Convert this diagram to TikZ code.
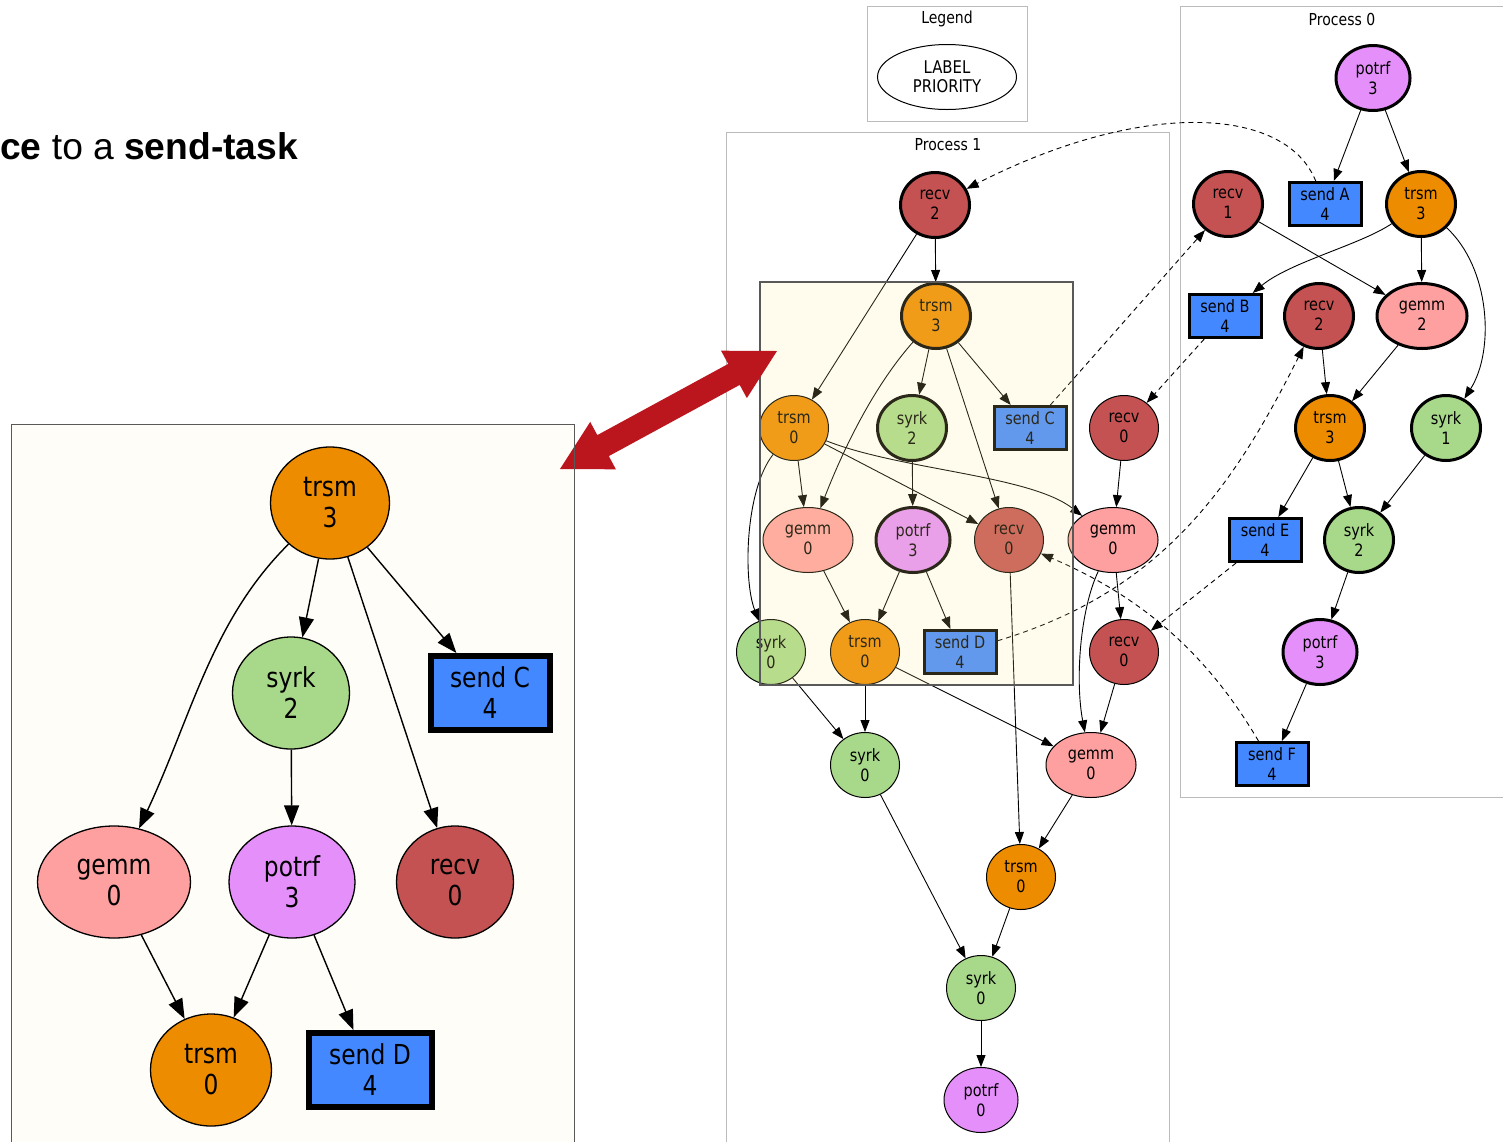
\documentclass[tikz,border=0pt]{standalone}
\usepackage{fontspec}
\setmainfont{DejaVu Sans}
\newfontfamily\gv{DejaVu Sans}[FakeStretch=0.85]
\newfontfamily\arl{Liberation Sans}
\usetikzlibrary{shapes.geometric,arrows.meta}
\definecolor{crecv}{HTML}{C55252}
\definecolor{ctrsm}{HTML}{EE8C00}
\definecolor{csyrk}{HTML}{A8D88A}
\definecolor{cgemm}{HTML}{FFA0A0}
\definecolor{cpotrf}{HTML}{E590FA}
\definecolor{csend}{HTML}{4488FF}
\definecolor{cframe}{HTML}{BBBBBB}
\definecolor{chl}{RGB}{255,240,150}
\definecolor{cred}{RGB}{187,22,30}
\definecolor{ccream}{HTML}{FFFDF7}
\tikzset{
  tk/.style={ellipse, draw=black, line width=1pt, inner sep=0pt, align=center,
    font=\gv\fontsize{17}{20}\selectfont, minimum width=69pt, minimum height=65pt},
  boldn/.style={line width=3pt},
  recv/.style={tk, fill=crecv},
  trsm/.style={tk, fill=ctrsm},
  syrk/.style={tk, fill=csyrk},
  gemm/.style={tk, fill=cgemm, minimum width=90pt},
  potrf/.style={tk, fill=cpotrf, minimum width=74pt},
  snd/.style={rectangle, draw=black, line width=3pt, fill=csend, inner sep=0pt, align=center,
    font=\gv\fontsize{17}{20}\selectfont, minimum width=72pt, minimum height=43pt},
  bigt/.style={ellipse, draw=black, line width=1.3pt, inner sep=0pt, align=center,
    font=\gv\fontsize{27.5}{31}\selectfont, minimum height=112pt},
  bigs/.style={rectangle, draw=black, line width=6pt, fill=csend, inner sep=0pt, align=center,
    font=\gv\fontsize{27.5}{31}\selectfont, minimum height=74pt},
  sm/.style={-{Triangle[length=12pt,width=9pt]}, line width=0.9pt},
  dsh/.style={sm, dash pattern=on 5pt off 4pt},
  bg/.style={-{Triangle[length=20pt,width=15pt]}, line width=1.4pt},
  boxf/.style={draw=cframe, line width=1pt},
  ttl/.style={font=\gv\fontsize{16.5}{19}\selectfont, inner sep=0pt}
}
\begin{document}
\begin{tikzpicture}[x=1pt,y=-1pt]
\useasboundingbox[fill=white] (0,0) rectangle (1503,1141);

% title fragment
\node[anchor=base west, inner sep=0pt, font=\arl\fontsize{37.2}{41}\selectfont] (title) at (0,159) {\textbf{ce} to a \textbf{send-task}};

% cluster frames
\draw[boxf] (867,6) rectangle (1027,121);
\draw[boxf] (1180,6) rectangle (1515,797);
\draw[boxf] (726,132) rectangle (1169,1160);
\node[ttl] (lgt) at (947,19) {Legend};
\node[ttl] (p0t) at (1342,19) {Process 0};
\node[ttl] (p1t) at (948,145) {Process 1};
\node[ellipse, draw=black, line width=1pt, inner sep=0pt, align=center, minimum width=139pt, minimum height=65pt,
  font=\gv\fontsize{17.5}{19}\selectfont] (lg) at (947,77) {LABEL\\PRIORITY};

% inset background
\fill[ccream] (11,424) rectangle (574,1160);

% ---------- Process 1 ----------
\node[recv,boldn] (aR2) at (935,205) {recv\\2};
\node[trsm,boldn] (aT3) at (936,316) {trsm\\3};
\node[trsm] (aT0) at (794,428) {trsm\\0};
\node[syrk,boldn] (aS2) at (912,428) {syrk\\2};
\node[snd] (aSC) at (1030,428) {send C\\4};
\node[recv] (aR0a) at (1124,428) {recv\\0};
\node[gemm] (aG0a) at (808,540) {gemm\\0};
\node[potrf,boldn] (aP3) at (913,540) {potrf\\3};
\node[recv] (aR0b) at (1009,540) {recv\\0};
\node[gemm] (aG0b) at (1113,540) {gemm\\0};
\node[syrk] (aSy0a) at (771,652) {syrk\\0};
\node[trsm] (aT0b) at (865,652) {trsm\\0};
\node[snd] (aSD) at (960,652) {send D\\4};
\node[recv] (aR0c) at (1124,652) {recv\\0};
\node[syrk] (aSy0b) at (865,765) {syrk\\0};
\node[gemm] (aG0c) at (1091,765) {gemm\\0};
\node[trsm] (aT0c) at (1021,877) {trsm\\0};
\node[syrk] (aSy0c) at (981,988) {syrk\\0};
\node[potrf] (aP0) at (981,1100) {potrf\\0};

\draw[sm] (aR2) -- (aT3);
\draw[sm] (aR2) -- (aT0);
\draw[sm] (aT3) -- (aS2);
\draw[sm] (aT3) -- (aSC);
\draw[sm] (aT3) -- (aR0b);
\draw[sm] (aT3) .. controls (875,385) and (845,445) .. (aG0a);
\draw[sm] (aT0) -- (aG0a);
\draw[sm] (aT0) -- (aR0b);
\draw[sm] (aT0) .. controls (900,470) and (1030,475) .. (aG0b);
\draw[sm] (aT0) .. controls (745,490) and (743,580) .. (aSy0a);
\draw[sm] (aS2) -- (aP3);
\draw[sm] (aR0a) -- (aG0b);
\draw[sm] (aG0a) -- (aT0b);
\draw[sm] (aP3) -- (aT0b);
\draw[sm] (aP3) -- (aSD);
\draw[sm] (aG0b) -- (aR0c);
\draw[sm] (aG0b) .. controls (1080,610) and (1075,680) .. (aG0c);
\draw[sm] (aR0c) -- (aG0c);
\draw[sm] (aR0b) -- (aT0c);
\draw[sm] (aSy0a) -- (aSy0b);
\draw[sm] (aT0b) -- (aSy0b);
\draw[sm] (aT0b) -- (aG0c);
\draw[sm] (aSy0b) -- (aSy0c);
\draw[sm] (aG0c) -- (aT0c);
\draw[sm] (aT0c) -- (aSy0c);
\draw[sm] (aSy0c) -- (aP0);

% ---------- Process 0 ----------
\node[potrf,boldn] (bP3a) at (1373,78) {potrf\\3};
\node[snd] (bSA) at (1325,204) {send A\\4};
\node[trsm,boldn] (bT3a) at (1421,204) {trsm\\3};
\node[recv,boldn] (bR1) at (1228,204) {recv\\1};
\node[snd] (bSB) at (1225,316) {send B\\4};
\node[recv,boldn] (bR2) at (1319,316) {recv\\2};
\node[gemm,boldn] (bG2) at (1422,316) {gemm\\2};
\node[trsm,boldn] (bT3b) at (1330,428) {trsm\\3};
\node[syrk,boldn] (bS1) at (1446,428) {syrk\\1};
\node[snd] (bSE) at (1265,540) {send E\\4};
\node[syrk,boldn] (bS2) at (1359,540) {syrk\\2};
\node[potrf,boldn] (bP3b) at (1320,652) {potrf\\3};
\node[snd] (bSF) at (1272,764) {send F\\4};

\draw[sm] (bP3a) -- (bSA);
\draw[sm] (bP3a) -- (bT3a);
\draw[sm] (bT3a) .. controls (1360,245) and (1290,262) .. (bSB);
\draw[sm] (bT3a) -- (bG2);
\draw[sm] (bT3a) .. controls (1490,268) and (1495,350) .. (bS1);
\draw[sm] (bR1) -- (bG2);
\draw[sm] (bR2) -- (bT3b);
\draw[sm] (bG2) -- (bT3b);
\draw[sm] (bS1) -- (bS2);
\draw[sm] (bT3b) -- (bSE);
\draw[sm] (bT3b) -- (bS2);
\draw[sm] (bS2) -- (bP3b);
\draw[sm] (bP3b) -- (bSF);

% ---------- cross-process (dashed) ----------
\draw[dsh] (bSA) .. controls (1285,105) and (1140,100) .. (aR2);
\draw[dsh] (aSC) -- (bR1);
\draw[dsh] (bSB) -- (aR0a);
\draw[dsh] (aSD) .. controls (1160,592) and (1232,490) .. (bR2);
\draw[dsh] (bSE) -- (aR0c);
\draw[dsh] (bSF) .. controls (1212,662) and (1150,600) .. (aR0b);

% highlight overlay
\draw[draw=black!65, line width=1.1pt, fill=chl, fill opacity=0.17] (760,282) rectangle (1073,685);

% ---------- inset ----------
\node[bigt, fill=ctrsm, minimum width=119pt] (cT3) at (330,503) {trsm\\3};
\node[bigt, fill=csyrk, minimum width=117pt] (cS2) at (291,693) {syrk\\2};
\node[bigs, minimum width=119pt] (cSC) at (490,693) {send C\\4};
\node[bigt, fill=cgemm, minimum width=153pt] (cG0) at (114,882) {gemm\\0};
\node[bigt, fill=cpotrf, minimum width=126pt] (cP3) at (292,882) {potrf\\3};
\node[bigt, fill=crecv, minimum width=117pt] (cR0) at (455,882) {recv\\0};
\node[bigt, fill=ctrsm, minimum width=121pt] (cT0) at (211,1070) {trsm\\0};
\node[bigs, minimum width=123pt] (cSD) at (370,1070) {send D\\4};

\draw[bg] (cT3) -- (cS2);
\draw[bg] (cT3) -- (cSC);
\draw[bg] (cT3) .. controls (212,620) and (192,715) .. (cG0);
\draw[bg] (cT3) -- (cR0);
\draw[bg] (cS2) -- (cP3);
\draw[bg] (cG0) -- (cT0);
\draw[bg] (cP3) -- (cT0);
\draw[bg] (cP3) -- (cSD);

% red double arrow
\fill[cred] (560,469) -- (590.2,421.9) -- (597.3,435.1) -- (728.2,363.9) -- (721.05,350.7)
  -- (777,351) -- (746.85,398.1) -- (739.7,384.9) -- (608.8,456.1) -- (615.9,469.3) -- cycle;

% inset border
\draw[draw=black!65, line width=1pt] (11,1160) -- (11,424) -- (574,424) -- (574,1160);
\end{tikzpicture}
\end{document}
